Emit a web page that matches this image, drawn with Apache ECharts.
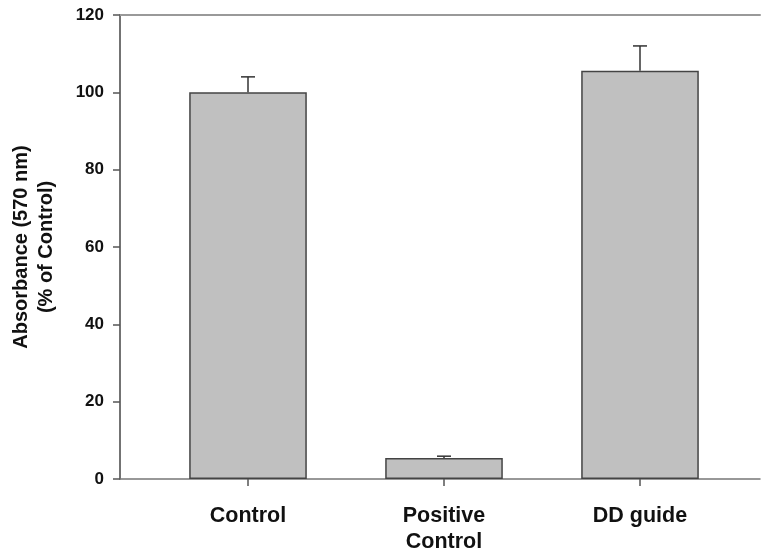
<!DOCTYPE html>
<html>
<head>
<meta charset="utf-8">
<script src="https://cdn.jsdelivr.net/npm/echarts@6/dist/echarts.min.js"></script>
<style>html,body{margin:0;padding:0;background:#fff}#c{width:762px;height:554px}</style>
</head>
<body>
<div id="c"></div>
<script>
var categories = ['Control', 'Positive\nControl', 'DD guide'];
var values = [100, 5.4, 105.6];
var errors = [4.0, 0.5, 6.4];
var yTicks = [0, 20, 40, 60, 80, 100, 120];

var FONT = '"Liberation Sans", Arial, sans-serif';
var chart = echarts.init(document.getElementById('c'));
chart.setOption({
  animation: false,
  backgroundColor: '#fff',
  grid: [
    {left: 150, right: 24, top: 15, bottom: 75, outerBoundsMode: 'none', containLabel: false},
    {left: 120, right: 2, top: 15, bottom: 75, outerBoundsMode: 'none', containLabel: false}
  ],
  xAxis: [
    {
      type: 'category', gridIndex: 0, data: categories,
      axisLine: {show: false},
      axisTick: {show: true, alignWithLabel: true, length: 7, lineStyle: {color: '#555', width: 1.5}},
      axisLabel: {fontFamily: FONT, fontWeight: 'bold', fontSize: 21.5, color: '#111', margin: 24, lineHeight: 26}
    },
    {
      type: 'value', gridIndex: 1, min: 0, max: 1, position: 'bottom',
      axisLine: {show: true, lineStyle: {color: '#777', width: 1.5}},
      axisTick: {show: false}, axisLabel: {show: false}, splitLine: {show: false}
    },
    {
      type: 'value', gridIndex: 1, min: 0, max: 1, position: 'top',
      axisLine: {show: true, lineStyle: {color: '#999', width: 2}},
      axisTick: {show: false}, axisLabel: {show: false}, splitLine: {show: false}
    }
  ],
  yAxis: [
    {
      type: 'value', gridIndex: 0, min: yTicks[0], max: yTicks[yTicks.length - 1], interval: 20,
      offset: 30,
      name: 'Absorbance (570 nm)\n(% of Control)',
      nameLocation: 'middle', nameGap: 61, nameRotate: 90,
      nameTextStyle: {fontFamily: FONT, fontWeight: 'bold', fontSize: 20, color: '#111', lineHeight: 25},
      axisLine: {show: true, lineStyle: {color: '#444', width: 1.5}},
      axisTick: {show: true, length: 7, lineStyle: {color: '#555', width: 1.5}},
      axisLabel: {fontFamily: FONT, fontWeight: 'bold', fontSize: 17, color: '#111', margin: 16},
      splitLine: {show: false}
    },
    {
      type: 'value', gridIndex: 1, min: 0, max: 1, show: false
    }
  ],
  series: [
    {
      type: 'bar', xAxisIndex: 0, yAxisIndex: 0, data: values, barWidth: '60%',
      itemStyle: {color: '#c0c0c0', borderColor: '#444', borderWidth: 1.5}
    },
    {
      type: 'custom', xAxisIndex: 0, yAxisIndex: 0, z: 5,
      data: values.map(function (v, i) { return [i, v, v + errors[i]]; }),
      renderItem: function (params, api) {
        var base = api.coord([api.value(0), api.value(1)]);
        var top = api.coord([api.value(0), api.value(2)]);
        var hw = 7;
        var st = {stroke: '#333', lineWidth: 1.5, fill: null};
        return {
          type: 'group',
          children: [
            {type: 'line', shape: {x1: base[0], y1: base[1], x2: top[0], y2: top[1]}, style: st},
            {type: 'line', shape: {x1: top[0] - hw, y1: top[1], x2: top[0] + hw, y2: top[1]}, style: st}
          ]
        };
      }
    }
  ]
});
</script>
</body>
</html>
